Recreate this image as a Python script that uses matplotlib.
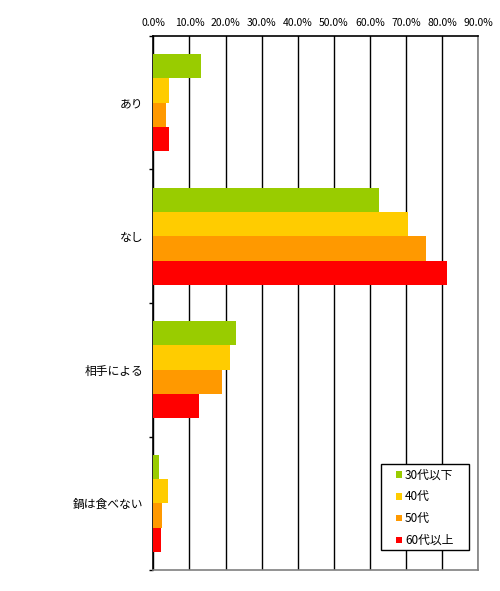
import numpy as np
import matplotlib
matplotlib.use("Agg")
import matplotlib.pyplot as plt
from matplotlib.patches import Rectangle
from matplotlib.ticker import FixedLocator, PercentFormatter

plt.rcParams["font.family"] = ["Noto Sans CJK JP", "DejaVu Sans"]

# data (percent)
categories = ["あり", "なし", "相手による", "鍋は食べない"]
series_names = ["30代以下", "40代", "50代", "60代以上"]
age_30s = [13.2, 62.5, 22.9, 1.6]
age_40s = [4.3, 70.5, 21.2, 4.1]
age_50s = [3.5, 75.5, 19.0, 2.4]
age_60s = [4.3, 81.3, 12.6, 2.2]
colors = ["#99CC00", "#FFCC00", "#FF9900", "#FF0000"]
x_ticks = np.arange(0, 91, 10)

series = [age_30s, age_40s, age_50s, age_60s]

fig = plt.figure(figsize=(5.0, 5.91), dpi=100)
ax = fig.add_axes([0.3066, 0.0355, 0.6500, 0.9036])

n = len(series)
bar_h = 0.73 / n
y = np.arange(len(categories))
for i, (vals, name, col) in enumerate(zip(series, series_names, colors)):
    offset = (i - (n - 1) / 2) * bar_h
    ax.barh(y + offset, vals, height=bar_h, color=col, label=name,
            zorder=3, linewidth=0)

ax.set_xlim(0, 90)
ax.set_ylim(len(categories) - 0.5, -0.5)

# percent ticks on top
ax.xaxis.tick_top()
ax.set_xticks(x_ticks)
ax.xaxis.set_major_formatter(PercentFormatter(decimals=1))
ax.tick_params(axis="x", length=0, labelsize=7.5, pad=6)
ax.grid(axis="x", color="black", linewidth=1.0, zorder=1)

# category labels, with small ticks between the groups
ax.set_yticks(y)
ax.set_yticklabels(categories, fontsize=8.5)
ax.yaxis.set_minor_locator(FixedLocator(np.arange(-0.5, len(categories), 1)))
ax.tick_params(axis="y", which="major", length=0, pad=7)
ax.tick_params(axis="y", which="minor", length=3, width=1, color="black")

for side in ["left", "top"]:
    ax.spines[side].set_color("black")
    ax.spines[side].set_linewidth(1.2)
for side in ["right", "bottom"]:
    ax.spines[side].set_color("#808080")
    ax.spines[side].set_linewidth(1.2)

# legend box drawn separately so its padding can match the original
box = Rectangle((0.7006, 0.0375), 0.2708, 0.161, transform=ax.transAxes,
                facecolor="white", edgecolor="black", linewidth=1.0,
                zorder=4, clip_on=False)
ax.add_patch(box)
leg = ax.legend(loc="upper left", bbox_to_anchor=(0.747, 0.190),
                fontsize=8.5, frameon=False,
                handlelength=0.5, handleheight=0.5, handletextpad=0.25,
                labelspacing=0.75, borderpad=0, borderaxespad=0)
leg.set_zorder(5)

fig.savefig("out.png", dpi=100)
